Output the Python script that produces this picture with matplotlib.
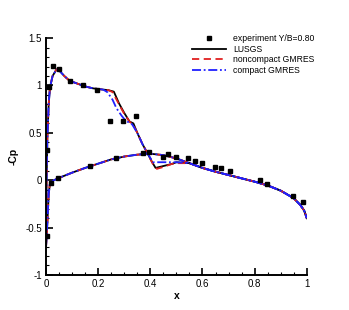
import matplotlib
matplotlib.use("Agg")
import matplotlib.pyplot as plt
from matplotlib.ticker import MultipleLocator

plt.rcParams['font.family'] = ['Liberation Sans', 'DejaVu Sans']

# experiment Y/B=0.80
exp_x = [0.003, 0.013, 0.028, 0.051, 0.092, 0.143, 0.194, 0.245, 0.297, 0.345,
         0.371, 0.396, 0.447, 0.469, 0.497, 0.546, 0.572, 0.597, 0.648, 0.670,
         0.706, 0.821, 0.849, 0.949, 0.985,
         0.004, 0.018, 0.045, 0.167, 0.267]
exp_cp = [0.32, 0.98, 1.21, 1.17, 1.05, 1.00, 0.95, 0.63, 0.63, 0.68,
          0.29, 0.30, 0.245, 0.28, 0.245, 0.23, 0.20, 0.18, 0.14, 0.13,
          0.095, 0.007, -0.045, -0.165, -0.23,
          -0.59, -0.03, 0.025, 0.15, 0.235]

# common trailing part (both surfaces merged)
tail_x = [0.55, 0.6, 0.65, 0.7, 0.75, 0.8, 0.85, 0.9, 0.95, 0.975, 0.99, 1.0]
tail_cp = [0.18, 0.13, 0.09, 0.055, 0.02, -0.015, -0.055, -0.11, -0.19, -0.26, -0.32, -0.40]

# lower surface
low_x = [0.0, 0.005, 0.01, 0.015, 0.03, 0.05, 0.1, 0.15, 0.2, 0.25, 0.3, 0.35, 0.4, 0.45, 0.5]
low_cp = [-0.70, -0.45, -0.15, -0.03, 0.0, 0.025, 0.08, 0.13, 0.175, 0.22, 0.25, 0.27, 0.28, 0.265, 0.23]

# upper surface, leading part (shared)
le_x = [0.0, 0.002, 0.005, 0.01, 0.015, 0.025, 0.04, 0.05, 0.07, 0.09, 0.12, 0.15, 0.18, 0.21]
le_cp = [-0.70, 0.0, 0.45, 0.80, 0.98, 1.10, 1.17, 1.16, 1.10, 1.05, 1.02, 0.99, 0.97, 0.96]

# shock region per solver
lusgs_x = [0.24, 0.26, 0.28, 0.30, 0.32, 0.335, 0.35, 0.37, 0.39, 0.405, 0.42, 0.45, 0.48, 0.5]
lusgs_cp = [0.95, 0.935, 0.81, 0.71, 0.62, 0.60, 0.50, 0.38, 0.28, 0.20, 0.13, 0.15, 0.17, 0.19]

ncg_x = [0.24, 0.255, 0.28, 0.30, 0.32, 0.335, 0.35, 0.37, 0.39, 0.41, 0.425, 0.45, 0.48, 0.5]
ncg_cp = [0.95, 0.93, 0.80, 0.70, 0.62, 0.58, 0.50, 0.38, 0.28, 0.17, 0.12, 0.14, 0.17, 0.18]

cg_x = [0.22, 0.235, 0.255, 0.27, 0.29, 0.305, 0.33, 0.35, 0.37, 0.39, 0.41, 0.45, 0.5]
cg_cp = [0.955, 0.93, 0.85, 0.76, 0.68, 0.63, 0.59, 0.50, 0.38, 0.28, 0.19, 0.19, 0.19]

fig = plt.figure(figsize=(3.49, 3.10), dpi=100)
ax = fig.add_axes([0.132, 0.113, 0.747, 0.764])

series = [
    ("LUSGS", lusgs_x, lusgs_cp, dict(color="black", ls="-")),
    ("noncompact GMRES", ncg_x, ncg_cp, dict(color="#e02020", ls=(0, (4, 2.5)))),
    ("compact GMRES", cg_x, cg_cp, dict(color="#2020ff", ls=(0, (5, 1.5, 1, 1.5)))),
]

ax.plot(exp_x, exp_cp, ls="none", marker="s", ms=3, color="black",
        label="experiment Y/B=0.80", zorder=5)
for name, sx, scp, st in series:
    ux = le_x + sx + tail_x
    ucp = le_cp + scp + tail_cp
    ax.plot(ux, ucp, lw=1.3, label=name, **st)
    ax.plot(low_x + tail_x, low_cp + tail_cp, lw=1.3, **st)

ax.set_xlim(0, 1)
ax.set_ylim(-1, 1.5)
ax.xaxis.set_minor_locator(MultipleLocator(0.05))
ax.yaxis.set_minor_locator(MultipleLocator(0.1))
ax.set_xticks([0, 0.2, 0.4, 0.6, 0.8, 1.0])
ax.set_xticklabels(["0", "0.2", "0.4", "0.6", "0.8", "1"])
ax.set_yticks([-1, -0.5, 0, 0.5, 1, 1.5])
ax.set_yticklabels(["-1", "-0.5", "0", "0.5", "1", "1.5"])

for s in ["top", "right"]:
    ax.spines[s].set_visible(False)
for s in ["left", "bottom"]:
    ax.spines[s].set_linewidth(1.4)
ax.tick_params(which="major", direction="in", length=5, width=1.2, labelsize=7, pad=3)
ax.tick_params(which="minor", direction="in", length=2.5, width=0.8)

ax.set_xlabel("x", fontsize=7.5, fontweight="bold", labelpad=1)
ax.set_ylabel("-Cp", fontsize=7.5, fontweight="bold", labelpad=5)

ax.legend(loc="upper left", bbox_to_anchor=(192 / 349, 1 - 34 / 310),
          bbox_transform=fig.transFigure, frameon=False, fontsize=6.2,
          handlelength=4.0, handletextpad=0.8, labelspacing=0.2, borderpad=0,
          borderaxespad=0)

fig.savefig("out.png", dpi=100)
